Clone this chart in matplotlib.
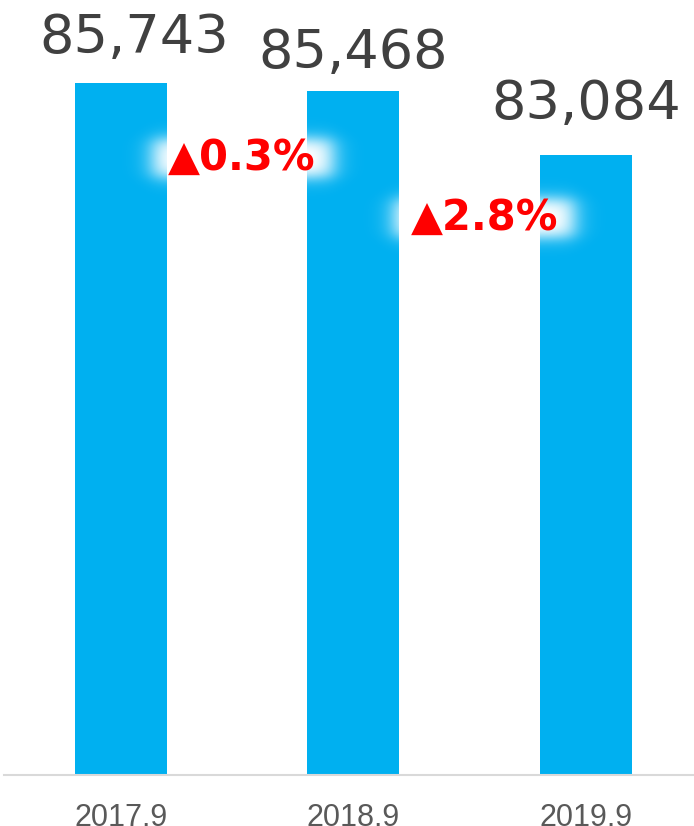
import numpy as np
import matplotlib.pyplot as plt

# data
periods = ["2017.9", "2018.9", "2019.9"]
members = [85743, 85468, 83084]

# label nudges in pixels (dx, dy above bar top)
label_nudge = [(13, 19), (0, 12), (0, 25)]
# change-label centres in axes fraction
change_pos = [(0.345, 0.796), (0.697, 0.719)]

bar_color = "#00B0F0"
text_color = "#404040"


def soft_box(n, lo, hi, s):
    """1-d alpha profile: ~1 between lo and hi, fading out over s pixels."""
    t = np.arange(n) + 0.5
    return 0.5 * (np.tanh((t - lo) / s) - np.tanh((t - hi) / s))


fig = plt.figure(figsize=(6.94, 8.26), dpi=100)
ax = fig.add_axes([4 / 694, 51 / 826, 690 / 694, 775 / 826])

x = np.arange(len(periods))
ax.bar(x, members, width=0.396, color=bar_color, zorder=2)

xlim = (-0.503, 2.465)
ylim = (60200, 88820)
ax.set_xlim(*xlim)
ax.set_ylim(*ylim)

for xi, v, (dx, dy) in zip(x, members, label_nudge):
    ax.annotate(f"{v:,}", (xi, v), xytext=(dx, dy), textcoords="offset pixels",
                ha="center", va="bottom", fontsize=39, color=text_color,
                family="DejaVu Sans", clip_on=False)

# year-on-year change, ▲ marks a decrease
change_texts = []
for i, (px, py) in enumerate(change_pos):
    pct = (members[i + 1] - members[i]) / members[i] * 100
    label = f"\u25b2{abs(pct):.1f}%"
    t = ax.text(px, py, label, transform=ax.transAxes, ha="center", va="center",
                fontsize=30, fontweight="bold", color="#FF0000", zorder=4,
                family="DejaVu Sans")
    change_texts.append(t)

for s in ["top", "right", "left"]:
    ax.spines[s].set_visible(False)
ax.spines["bottom"].set_color("#D9D9D9")
ax.spines["bottom"].set_linewidth(1.5)
ax.set_yticks([])
ax.set_xticks(x)
ax.set_xticklabels(periods, fontsize=22, color="#595959", family="Liberation Sans")
ax.tick_params(axis="x", length=0, pad=20)

# soft white glow behind the change labels
fig.canvas.draw()
renderer = fig.canvas.get_renderer()
to_axes = ax.transAxes.inverted()
for t in change_texts:
    bb = t.get_window_extent(renderer)
    cx, cy = (bb.x0 + bb.x1) / 2, (bb.y0 + bb.y1) / 2
    hw, hh = bb.width / 2 + 16, 19
    mx, my = 60, 40
    w, h = int(2 * (hw + mx)), int(2 * (hh + my))
    ax_x = soft_box(w, mx, w - mx, 13)
    ax_y = soft_box(h, my, h - my, 9)
    img = np.ones((h, w, 4))
    img[..., 3] = np.clip(np.outer(ax_y, ax_x) * 1.05, 0, 1)
    (x0, y0) = to_axes.transform((cx - w / 2, cy - h / 2))
    (x1, y1) = to_axes.transform((cx + w / 2, cy + h / 2))
    ax.imshow(img, extent=[x0, x1, y0, y1], transform=ax.transAxes,
              aspect="auto", interpolation="bilinear", zorder=3)

ax.set_xlim(*xlim)
ax.set_ylim(*ylim)

fig.savefig("out.png", dpi=100)
